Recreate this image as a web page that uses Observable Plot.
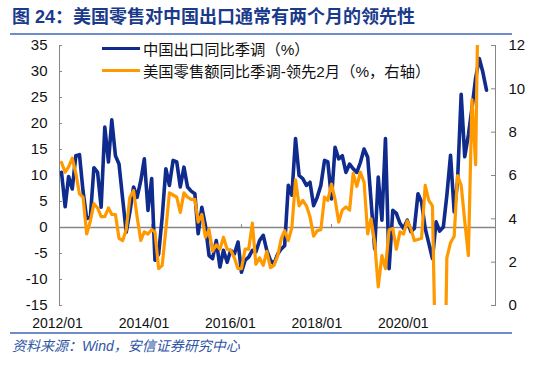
<!DOCTYPE html>
<html><head><meta charset="utf-8">
<script src="https://cdn.jsdelivr.net/npm/d3@7"></script>
<script src="https://cdn.jsdelivr.net/npm/@observablehq/plot@0.6"></script>
<style>
body{margin:0;background:#fff;}
#wrap{position:relative;width:550px;height:371px;overflow:hidden;font-family:"Liberation Sans","Noto Sans CJK SC",sans-serif;}
#title{position:absolute;left:12px;top:6px;font-size:18px;line-height:23px;font-weight:bold;color:#1a3a8c;white-space:nowrap;}
.rule{position:absolute;left:10px;width:502px;height:2px;background:#6f8ccc;}
#chart{position:absolute;left:0;top:35px;}
#legend{position:absolute;left:102px;top:38px;font-size:15.3px;color:#111;}
.item{display:flex;align-items:center;height:20px;margin-bottom:2px;white-space:nowrap;}
.swatch{width:38px;height:3px;margin-right:3px;}
#source{position:absolute;left:12px;top:337px;font-size:14px;line-height:18px;font-style:italic;color:#2f56a6;white-space:nowrap;}
</style></head>
<body>
<div id="wrap">
  <div id="title">图 24：美国零售对中国出口通常有两个月的领先性</div>
  <div class="rule" style="top:33px"></div>
  <div id="chart"></div>
  <div id="legend"></div>
  <div class="rule" style="top:332px"></div>
  <div id="source">资料来源：Wind，安信证券研究中心</div>
</div>
<script>
const seriesNames = ["中国出口同比季调（%）", "美国零售额同比季调-领先2月（%，右轴）"];
const seriesColors = ["#0f2b8d", "#ff9900"];
const months = d3.utcMonth.range(new Date(Date.UTC(2012,0,1)), new Date(Date.UTC(2021,11,1)));
const chinaExport = [
 10.6, 4.0, 9.8, 7.4, 13.8, 14.0, 7.0, 1.7, 2.0, 11.5,
 10.6, 3.9, 19.3, 12.6, 20.7, 13.8, 12.2, 5.5, -0.9, 3.0,
 7.8, 5.8, 9.0, 13.2, 3.3, 9.4, -6.3, -5.1, 2.0, 11.3,
 8.1, 12.9, 12.6, 7.8, 11.6, 7.8, 7.0, 6.5, -1.2, 3.9,
 0.4, -5.4, -6.0, -2.5, -7.6, -4.4, -6.7, -4.4, -5.1, -2.8,
 -8.6, -6.3, -5.7, -4.4, -4.7, -2.5, -1.5, -4.4, -6.3, -7.0,
 -5.1, -4.1, -3.5, 8.1, 6.2, 17.1, 10.0, 9.4, 8.1, 8.7,
 4.2, 5.8, 8.1, 12.9, 12.6, 5.5, 15.4, 13.2, 13.8, 10.6,
 12.2, 11.3, 10.6, 12.5, 15.1, 13.5, 5.2, -4.1, 9.7, 1.4,
 17.1, -7.9, 3.3, 2.7, 0.8, -0.2, 1.4, -0.8, -0.2, 6.5,
 4.9, -0.2, -3.0, -6.0, 1.1, -0.7, 0.1, 6.2, 13.9, 3.0,
 8.8, 25.6, 13.6, 17.8, 22.9, 28.7, 32.5, 29.9, 26.4];
const usRetail = [
 6.6, 6.15, 6.4, 6.8, 6.1, 5.15, 5.0, 3.3, 3.9, 4.7,
 4.5, 4.1, 4.1, 4.5, 4.2, 4.2, 3.1, 3.0, 3.5, 5.0,
 5.3, 4.1, 3.0, 3.4, 3.3, 3.5, 3.4, 1.7, 1.85, 3.5,
 5.2, 5.1, 5.0, 4.3, 5.2, 5.0, 4.9, 4.9, 3.85, 4.2,
 3.15, 3.5, 2.5, 2.8, 2.6, 3.15, 2.6, 2.55, 2.2, 1.7,
 1.7, 2.6, 2.6, 3.8, 1.9, 2.2, 1.85, 2.5, 1.75, 1.85,
 2.3, 3.1, 3.45, 3.0, 3.6, 5.8, 4.6, 4.85, 4.6, 4.1,
 3.2, 3.45, 3.5, 5.0, 4.85, 5.6, 4.9, 3.85, 4.4, 4.55,
 4.4, 6.1, 5.5, 6.15, 5.7, 3.3, 4.0, 2.9, 0.86, 2.3,
 1.7, 3.5, 3.55, 2.6, 3.4, 3.3, 3.9, 3.55, 3.0, 3.05,
 3.1, 5.55, 4.85, 4.6, -4, -6, -8, 2.2, 2.9, 3.2,
 6.0, 5.55, 3.9, 2.3, 9.5, 6.5, 18];
const leftTicks = [-15, -10, -5, 0, 5, 10, 15, 20, 25, 30, 35];
const rightTicks = [0, 2, 4, 6, 8, 10, 12];
const xTickLabels = ["2012/01", "2014/01", "2016/01", "2018/01", "2020/01"];

const toLeft = r => r * 50 / 12 - 15;
const fromLeft = v => Math.round((v + 15) * 12 / 50);
const exportData = chinaExport.map((v, i) => ({date: months[i], v}));
const retailData = usRetail.map((r, i) => ({date: months[i], v: toLeft(r)}));
const parseM = d3.utcParse("%Y/%m");
const xTicks = xTickLabels.map(s => parseM(s));
const minorTicks = months.filter((d, i) => i > 0 && i % 25 === 0);
const gray = "#868686";

const chart = Plot.plot({
  width: 550, height: 297,
  marginTop: 10, marginBottom: 27, marginLeft: 59, marginRight: 55,
  style: {fontFamily: "Liberation Sans, Noto Sans CJK SC, sans-serif", fontSize: "15px", color: "#111", background: "transparent"},
  x: {type: "utc", domain: [months[0], months[months.length - 1]], insetLeft: 2, insetRight: 9, label: null},
  y: {domain: [-15, 35], label: null},
  marks: [
    Plot.ruleY([0], {stroke: gray, strokeWidth: 1.5}),
    Plot.vector(minorTicks, {x: d => d, y: () => 0, length: 3, rotate: 0, anchor: "start", stroke: gray, strokeWidth: 1,
      shape: {draw(c, l) { c.moveTo(0, 0); c.lineTo(0, -l); }}}),
    Plot.frame({anchor: "left", stroke: gray}),
    Plot.frame({anchor: "right", stroke: gray}),
    Plot.axisY({anchor: "left", ticks: leftTicks, tickFormat: d => String(d), tickSize: 3, dx: 3, tickPadding: 12, stroke: gray, fontSize: 15}),
    Plot.axisY({anchor: "right", ticks: rightTicks.map(toLeft), tickFormat: v => String(fromLeft(v)), tickSize: 5, dx: -5, tickPadding: 13, stroke: gray, fontSize: 15}),
    Plot.axisX({ticks: xTicks, tickFormat: d3.utcFormat("%Y/%m"), tickSize: 0, tickPadding: 13, dx: -4, fontSize: 14}),
    Plot.line(exportData, {x: "date", y: "v", stroke: seriesColors[0], strokeWidth: 3.6}),
    Plot.line(retailData, {x: "date", y: "v", stroke: seriesColors[1], strokeWidth: 3.2, clip: true})
  ]
});
document.getElementById("chart").appendChild(chart);

const legend = document.getElementById("legend");
seriesNames.forEach((n, i) => {
  const item = document.createElement("div");
  item.className = "item";
  const sw = document.createElement("span");
  sw.className = "swatch";
  sw.style.background = seriesColors[i];
  const t = document.createElement("span");
  t.textContent = n;
  item.appendChild(sw); item.appendChild(t);
  legend.appendChild(item);
});
</script>
</body></html>
